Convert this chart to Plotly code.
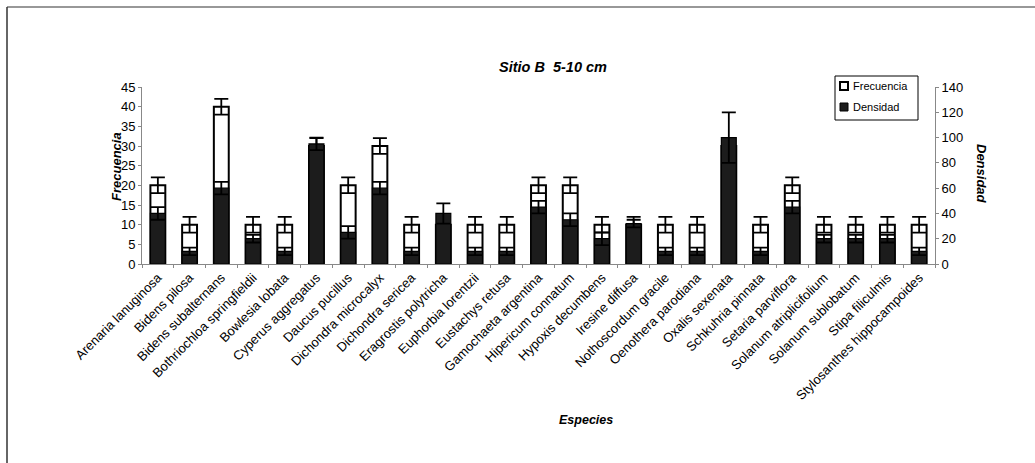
import plotly.graph_objects as go

especies = [
    "Arenaria lanuginosa", "Bidens pilosa", "Bidens subalternans", "Bothriochloa springfieldii",
    "Bowlesia lobata", "Cyperus aggregatus", "Daucus pucillus", "Dichondra microcalyx",
    "Dichondra sericea", "Eragrostis polytricha", "Euphorbia lorentzii", "Eustachys retusa",
    "Gamochaeta argentina", "Hipericum connatum", "Hypoxis decumbens", "Iresine diffusa",
    "Nothoscordum gracile", "Oenothera parodiana", "Oxalis sexenata", "Schkuhria pinnata",
    "Setaria parviflora", "Solanum atriplicifolium", "Solanum sublobatum", "Stipa filiculmis",
    "Stylosanthes hippocampoides",
]
frecuencia = [20, 10, 40, 10, 10, 30, 20, 30, 10, 10, 10, 10, 20, 20, 10, 10, 10, 10, 30, 10, 20, 10, 10, 10, 10]
frecuencia_err = [2] * 25
densidad = [40, 10, 60, 20, 10, 95, 25, 60, 10, 40, 10, 10, 45, 35, 20, 32, 10, 10, 100, 10, 45, 20, 20, 20, 10]
densidad_err = [5, 3, 5, 3, 3, 5, 5, 5, 3, 8, 3, 3, 5, 5, 5, 3, 3, 3, 20, 3, 5, 3, 3, 3, 3]

FONT = "Arial, Liberation Sans, sans-serif"

# plot area in pixels
L, R, T, B = 142, 935, 87, 264
W, H = 1035, 463

def px_x(p):
    return (p - L) / (R - L)

def px_y(p):
    return (B - p) / (B - T)

fig = go.Figure()
fig.add_trace(go.Bar(
    x=especies, y=frecuencia, name="Frecuencia", yaxis="y",
    marker=dict(color="white", line=dict(color="black", width=2)),
    width=0.47,
    error_y=dict(type="data", array=frecuencia_err, visible=True, color="black", thickness=1.8, width=7),
))
fig.add_trace(go.Bar(
    x=especies, y=densidad, name="Densidad", yaxis="y2",
    marker=dict(color="#1c1c1c", line=dict(color="black", width=1.2)),
    width=0.47,
    error_y=dict(type="data", array=densidad_err, visible=True, color="black", thickness=1.8, width=7),
))

# custom legend
leg_shapes = [
    dict(type="rect", xref="paper", yref="paper", x0=px_x(835), x1=px_x(918), y0=px_y(76), y1=px_y(120),
         line=dict(color="black", width=1), fillcolor="white", layer="above"),
    dict(type="rect", xref="paper", yref="paper", x0=px_x(840), x1=px_x(848), y0=px_y(82), y1=px_y(90),
         line=dict(color="black", width=2), fillcolor="white", layer="above"),
    dict(type="rect", xref="paper", yref="paper", x0=px_x(840), x1=px_x(848), y0=px_y(103), y1=px_y(111),
         line=dict(color="black", width=1), fillcolor="#1c1c1c", layer="above"),
]
leg_annots = [
    dict(text="Frecuencia", x=px_x(851), y=px_y(86), xanchor="left", yanchor="middle",
         xref="paper", yref="paper", showarrow=False, font=dict(size=11)),
    dict(text="Densidad", x=px_x(851), y=px_y(107), xanchor="left", yanchor="middle",
         xref="paper", yref="paper", showarrow=False, font=dict(size=11)),
]

def centered(text, x, y, size, angle=0):
    return dict(text=text, x=px_x(x), y=px_y(y), xanchor="center", yanchor="middle",
                textangle=angle, xref="paper", yref="paper", showarrow=False,
                font=dict(size=size))

fig.update_layout(
    width=W, height=H,
    margin=dict(l=L, r=W - R, t=T, b=H - B, autoexpand=False),
    paper_bgcolor="white", plot_bgcolor="white",
    barmode="overlay",
    font=dict(family=FONT, color="black", size=13),
    showlegend=False,
    xaxis=dict(
        showline=True, linecolor="#888", linewidth=1,
        ticks="outside", ticklen=3, tickcolor="#888", tickson="boundaries",
        tickangle=-45, tickfont=dict(size=13, family=FONT),
        showgrid=False, range=[-0.5, 24.5],
    ),
    yaxis=dict(
        range=[0, 45], dtick=5, showline=True, linecolor="#888", linewidth=1,
        ticks="outside", ticklen=3, tickcolor="#888", showgrid=False, zeroline=False,
        tickfont=dict(size=13),
    ),
    yaxis2=dict(
        range=[0, 140], dtick=20, overlaying="y", side="right",
        showline=True, linecolor="#888", linewidth=1,
        ticks="outside", ticklen=3, tickcolor="#888", showgrid=False, zeroline=False,
        tickfont=dict(size=13),
    ),
    annotations=[
        centered("<b><i>Sitio B\u00a0\u00a05-10 cm</i></b>", 553, 67, 14.5),
        centered("<b><i>Frecuencia</i></b>", 116, 167, 13, -90),
        centered("<b><i>Densidad</i></b>", 982, 174, 13, 90),
        centered("<b><i>Especies</i></b>", 586, 420, 12.5),
    ] + leg_annots,
    shapes=[
        dict(type="line", xref="paper", yref="paper", x0=px_x(7), x1=px_x(7), y0=px_y(7), y1=px_y(463),
             line=dict(color="#333", width=1.5)),
        dict(type="line", xref="paper", yref="paper", x0=px_x(7), x1=px_x(1035), y0=px_y(7), y1=px_y(7),
             line=dict(color="#333", width=1.2)),
    ] + leg_shapes,
)

fig.write_html("out.html", config={"displayModeBar": False},
               post_script="document.body.style.margin='0';")
